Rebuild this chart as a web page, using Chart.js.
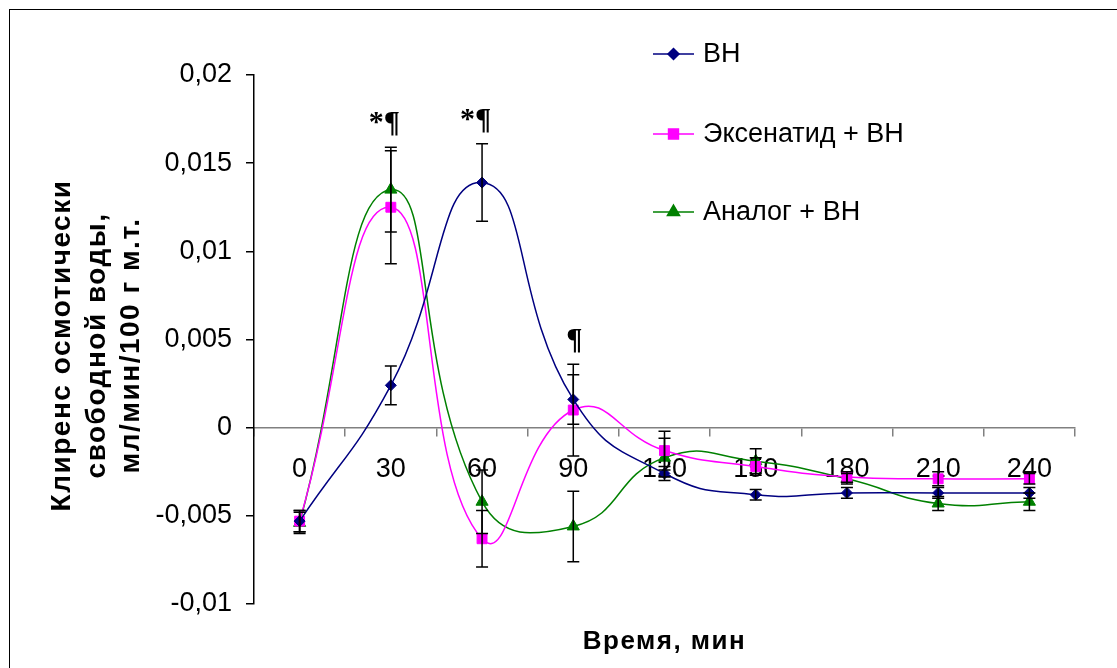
<!DOCTYPE html>
<html>
<head>
<meta charset="utf-8">
<script src="https://cdn.jsdelivr.net/npm/chart.js@4.4.1/dist/chart.umd.min.js"></script>
<style>
  html, body { margin: 0; padding: 0; background: #fff; overflow: hidden; }
  #wrap { position: relative; width: 1117px; height: 668px; overflow: hidden; }
  #frame { position: absolute; left: 9px; top: 9px; width: 1200px; height: 800px; border: 1.5px solid #000; box-sizing: border-box; }
  canvas { position: absolute; left: 0; top: 0; }
</style>
</head>
<body>
<div id="wrap">
  <div id="frame"></div>
  <canvas id="chart" width="1117" height="668"></canvas>
</div>
<script>
// Time points, minutes
const timeLabels = ['0', '30', '60', '90', '120', '150', '180', '210', '240'];

// Series names
const seriesNames = ['ВН', 'Эксенатид + ВН', 'Аналог + ВН'];

// Mean free-water clearance, ml/min/100 g b.w.
const vhMean        = [-0.0053, 0.0024, 0.0139, 0.0016, -0.0026, -0.0038, -0.0037, -0.0037, -0.0037];
const exenatideMean = [-0.0053, 0.0125, -0.0063, 0.0010, -0.0013, -0.0022, -0.0028, -0.0029, -0.0029];
const analogMean    = [-0.0054, 0.0135, -0.0042, -0.0056, -0.0017, -0.0019, -0.0029, -0.0043, -0.0042];

// Standard errors
const vhErr        = [0.0006, 0.0011, 0.0022, 0.0014, 0.0004, 0.0003, 0.0003, 0.0003, 0.0003];
const exenatideErr = [0.0006, 0.0032, 0.0016, 0.0026, 0.0011, 0.0005, 0.0003, 0.0004, 0.0003];
const analogErr    = [0.0006, 0.0024, 0.0018, 0.0020, 0.0011, 0.0007, 0.0003, 0.0004, 0.0005];

// Significance marks over time points
const markIndex = [1, 2, 3];
const markText  = ['*¶', '*¶', '¶'];

// Y axis ticks
const yTickValues = [-0.01, -0.005, 0, 0.005, 0.01, 0.015, 0.02];
const yTickLabels = ['-0,01', '-0,005', '0', '0,005', '0,01', '0,015', '0,02'];

const yTitleLines = ['Клиренс осмотически', 'свободной воды,', 'мл/мин/100 г м.т.'];
const xTitle = 'Время, мин';

const SANS = '"Liberation Sans", Arial, sans-serif';
const SERIF = '"Liberation Serif", "Times New Roman", serif';

const errorSets = [vhErr, exenatideErr, analogErr];

// Vertical error bars with caps
const errorBars = {
  id: 'errorBars',
  afterDatasetsDraw(chart) {
    const ctx = chart.ctx, y = chart.scales.y;
    ctx.save();
    ctx.strokeStyle = '#000';
    ctx.lineWidth = 1.5;
    chart.data.datasets.forEach((ds, di) => {
      const meta = chart.getDatasetMeta(di);
      meta.data.forEach((pt, i) => {
        const m = ds.data[i], e = errorSets[di][i];
        const yt = y.getPixelForValue(m + e), yb = y.getPixelForValue(m - e);
        const x = pt.x, cap = 6;
        ctx.beginPath();
        ctx.moveTo(x, yt); ctx.lineTo(x, yb);
        ctx.moveTo(x - cap, yt); ctx.lineTo(x + cap, yt);
        ctx.moveTo(x - cap, yb); ctx.lineTo(x + cap, yb);
        ctx.stroke();
      });
    });
    ctx.restore();
  }
};

// Significance marks above the highest error bar at a time point
const sigMarks = {
  id: 'sigMarks',
  afterDatasetsDraw(chart) {
    const ctx = chart.ctx, y = chart.scales.y, x = chart.scales.x;
    ctx.save();
    ctx.font = 'bold 30px ' + SERIF;
    ctx.fillStyle = '#000';
    ctx.textAlign = 'right';
    ctx.textBaseline = 'alphabetic';
    const pw = ctx.measureText('¶').width;
    markIndex.forEach((idx, k) => {
      let top = -Infinity;
      chart.data.datasets.forEach((ds, di) => {
        top = Math.max(top, ds.data[idx] + errorSets[di][idx]);
      });
      const px = x.getPixelForValue(idx);
      ctx.fillText(markText[k], px + pw / 2 + 1, y.getPixelForValue(top) - 16);
    });
    ctx.restore();
  }
};

// Axis titles and legend
const decorations = {
  id: 'decorations',
  afterDraw(chart) {
    const ctx = chart.ctx, area = chart.chartArea;
    ctx.save();
    ctx.fillStyle = '#000';
    ctx.textAlign = 'center';
    ctx.textBaseline = 'middle';

    // y title, rotated
    ctx.font = 'bold 28px ' + SANS;
    ctx.letterSpacing = '1.5px';
    const cy = (area.top + area.bottom) / 2 + 6;
    const lineX = [62, 97, 131];
    yTitleLines.forEach((t, i) => {
      ctx.save();
      ctx.translate(lineX[i], cy);
      ctx.rotate(-Math.PI / 2);
      ctx.fillText(t, 0, 0);
      ctx.restore();
    });

    // x title
    ctx.font = 'bold 26px ' + SANS;
    ctx.letterSpacing = '1.5px';
    ctx.fillText(xTitle, (area.left + area.right) / 2, 642);
    ctx.letterSpacing = '0px';

    // legend
    ctx.font = '27px ' + SANS;
    ctx.textAlign = 'left';
    const rows = [54, 134, 212];
    chart.data.datasets.forEach((ds, i) => {
      const ry = rows[i];
      ctx.strokeStyle = ds.borderColor;
      ctx.lineWidth = 1.5;
      ctx.beginPath();
      ctx.moveTo(653, ry); ctx.lineTo(694, ry);
      ctx.stroke();
      ctx.fillStyle = ds.backgroundColor;
      Chart.helpers.drawPoint(ctx, {
        pointStyle: ds.pointStyle, radius: ds.pointRadius, borderWidth: 1, rotation: 0
      }, 673.5, ry);
      ctx.fillStyle = '#000';
      ctx.fillText(ds.label, 703, ry + 1);
    });
    ctx.restore();
  }
};

function series(label, data, color, style, radius) {
  return {
    label, data,
    borderColor: color, backgroundColor: color,
    borderWidth: 1.5,
    pointStyle: style, pointRadius: radius, pointHoverRadius: radius,
    pointBorderWidth: 1, pointBorderColor: color, pointBackgroundColor: color,
    tension: 0.5, fill: false
  };
}

new Chart(document.getElementById('chart'), {
  type: 'line',
  data: {
    labels: timeLabels,
    datasets: [
      series(seriesNames[0], vhMean, '#000080', 'rectRot', 5.5),
      series(seriesNames[1], exenatideMean, '#FF00FF', 'rect', 7),
      series(seriesNames[2], analogMean, '#008000', 'triangle', 7)
    ]
  },
  options: {
    responsive: false,
    animation: false,
    devicePixelRatio: 1,
    layout: { padding: { left: 0, right: 42, top: 75, bottom: 64 } },
    plugins: { legend: { display: false }, tooltip: { enabled: false } },
    scales: {
      x: {
        type: 'category',
        offset: true,
        position: { y: 0 },
        z: 1,
        grid: { offset: true, drawOnChartArea: false, drawTicks: true, tickLength: 8, color: '#808080', lineWidth: 1.5 },
        border: { color: '#808080', width: 1.5 },
        ticks: { color: '#000', font: { family: SANS, size: 27 }, padding: 18, maxRotation: 0, autoSkip: false }
      },
      y: {
        min: -0.01,
        max: 0.02,
        afterBuildTicks: s => { s.ticks = yTickValues.map(v => ({ value: v })); },
        afterFit: s => { s.width = 254; },
        grid: { drawOnChartArea: false, drawTicks: true, tickLength: 8, color: '#000', lineWidth: 1.5 },
        border: { color: '#000', width: 1.5 },
        ticks: { color: '#000', font: { family: SANS, size: 27 }, padding: 14,
                 callback: (v, i) => yTickLabels[i] }
      }
    }
  },
  plugins: [errorBars, sigMarks, decorations]
});
</script>
</body>
</html>
